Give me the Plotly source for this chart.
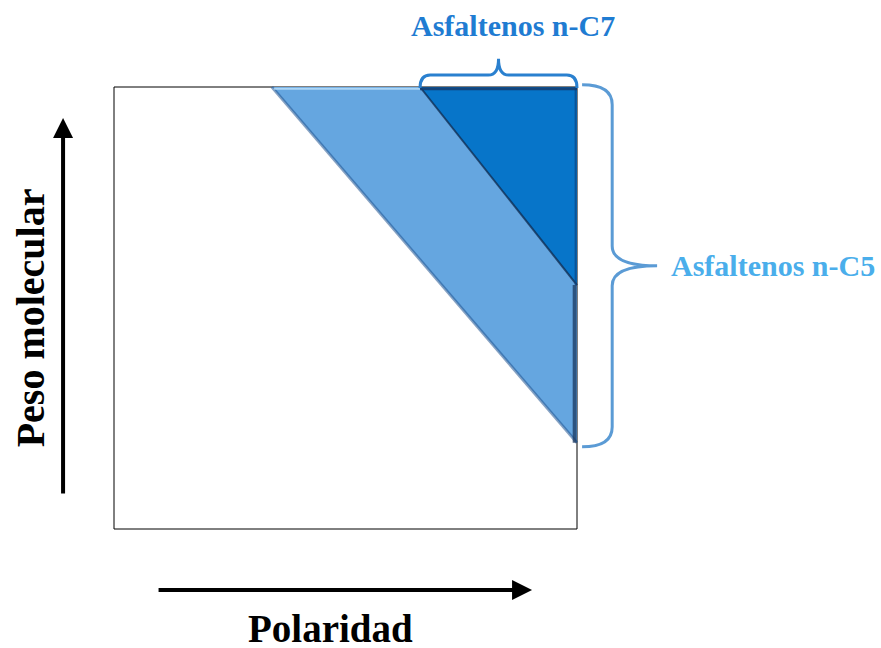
import plotly.graph_objects as go

# Normalized diagram coordinates: x = polaridad (0..1), y = peso molecular (0..1)
light_x = [0.341, 1.0, 1.0]
light_y = [1.0, 1.0, 0.195]
dark_x = [0.661, 1.0, 1.0]
dark_y = [1.0, 1.0, 0.552]

label_c7 = "Asfaltenos n-C7"
label_c5 = "Asfaltenos n-C5"
x_title = "Polaridad"
y_title = "Peso molecular"

LIGHT = "#65A6E0"
DARK = "#0775C9"
SERIF = "Liberation Serif, Times New Roman, serif"

fig = go.Figure()

# light region (n-C5)
fig.add_trace(go.Scatter(x=light_x + [light_x[0]], y=light_y + [light_y[0]], mode="lines",
                         fill="toself", fillcolor=LIGHT, line=dict(width=0), hoverinfo="skip"))
# shadow on light diagonal
fig.add_trace(go.Scatter(x=[light_x[0], light_x[2]], y=[light_y[0], light_y[2]], mode="lines",
                         line=dict(color="rgba(35,85,145,0.55)", width=3), hoverinfo="skip"))
# highlight at top of light region
fig.add_trace(go.Scatter(x=[light_x[0] + 0.004, dark_x[0]], y=[0.996, 0.996], mode="lines",
                         line=dict(color="rgba(190,225,250,0.8)", width=2), hoverinfo="skip"))
# right edge shading of light region
fig.add_trace(go.Scatter(x=[0.995, 0.995], y=[light_y[2], dark_y[2]], mode="lines",
                         line=dict(color="rgba(25,55,95,0.75)", width=4), hoverinfo="skip"))
# dark region (n-C7)
fig.add_trace(go.Scatter(x=dark_x + [dark_x[0]], y=dark_y + [dark_y[0]], mode="lines",
                         fill="toself", fillcolor=DARK, line=dict(width=0), hoverinfo="skip"))
# dark diagonal edge
fig.add_trace(go.Scatter(x=[dark_x[0], dark_x[2]], y=[dark_y[0], dark_y[2]], mode="lines",
                         line=dict(color="rgba(15,40,75,0.75)", width=2), hoverinfo="skip"))
# dark top strip
fig.add_trace(go.Scatter(x=[dark_x[0], dark_x[1]], y=[0.996, 0.996], mode="lines",
                         line=dict(color="rgba(20,60,110,0.85)", width=3), hoverinfo="skip"))
# dark region right edge
fig.add_trace(go.Scatter(x=[0.997, 0.997], y=[dark_y[2], 1.0], mode="lines",
                         line=dict(color="rgba(10,60,120,0.6)", width=2), hoverinfo="skip"))

# braces
tx0, tx1 = min(dark_x), max(dark_x)
txm = (tx0 + tx1) / 2
b = 0.998
h = 0.029
t = 0.066
r = 0.022
top_brace = (f"M {tx0},{b} Q {tx0},{b+h} {tx0+r},{b+h} L {txm-r},{b+h} "
             f"Q {txm},{b+h} {txm},{b+t} Q {txm},{b+h} {txm+r},{b+h} "
             f"L {tx1-r},{b+h} Q {tx1},{b+h} {tx1},{b}")

ry0, ry1 = min(light_y) - 0.009, max(light_y) + 0.005
rym = (ry0 + ry1) / 2
bx = 1.011
vx = 1.076
tipx = 1.173
ry = 0.045
right_brace = (f"M {bx},{ry1} Q {vx},{ry1} {vx},{ry1-ry} L {vx},{rym+ry} "
               f"Q {vx},{rym} {tipx},{rym} Q {vx},{rym} {vx},{rym-ry} "
               f"L {vx},{ry0+ry} Q {vx},{ry0} {bx},{ry0}")

shapes = [
    dict(type="rect", xref="x", yref="y", x0=0, x1=1, y0=0, y1=1,
         line=dict(color="black", width=1), layer="below"),
    dict(type="path", xref="x", yref="y", path=top_brace,
         line=dict(color="#2A80CF", width=3)),
    dict(type="path", xref="x", yref="y", path=right_brace,
         line=dict(color="#5B9BD5", width=3)),
]

annotations = [
    # y arrow
    dict(x=-0.110, y=0.930, ax=-0.110, ay=0.077, xref="x", yref="y", axref="x", ayref="y",
         text="", showarrow=True, arrowhead=2, arrowsize=1, arrowwidth=4, arrowcolor="black"),
    # x arrow
    dict(x=0.903, y=-0.138, ax=0.093, ay=-0.138, xref="x", yref="y", axref="x", ayref="y",
         text="", showarrow=True, arrowhead=2, arrowsize=1, arrowwidth=4, arrowcolor="black"),
    dict(x=-0.181, y=0.477, xref="x", yref="y", text=f"<b>{y_title}</b>", showarrow=False,
         textangle=-90, font=dict(family=SERIF, size=40, color="black")),
    dict(x=0.467, y=-0.225, xref="x", yref="y", text=f"<b>{x_title}</b>", showarrow=False,
         font=dict(family=SERIF, size=39, color="black")),
    dict(x=txm + 0.032, y=1.140, xref="x", yref="y", text=f"<b>{label_c7}</b>", showarrow=False,
         font=dict(family=SERIF, size=30, color="#1F7CD2")),
    dict(x=1.199, y=rym, xref="x", yref="y", text=f"<b>{label_c5}</b>", showarrow=False,
         xanchor="left", font=dict(family=SERIF, size=30, color="#4AAEEB")),
]

fig.update_layout(
    width=881, height=648,
    margin=dict(l=0, r=0, t=0, b=0),
    paper_bgcolor="white", plot_bgcolor="white",
    showlegend=False,
    xaxis=dict(range=[-114 / 463, 767 / 463], visible=False, fixedrange=True),
    yaxis=dict(range=[-119 / 442, 529 / 442], visible=False, fixedrange=True),
    shapes=shapes, annotations=annotations,
)

# remove the default page margin so the 881x648 figure fills the window exactly
fig.write_html("out.html", config={"displayModeBar": False},
               post_script="document.body.style.margin='0';document.body.style.overflow='hidden';")
